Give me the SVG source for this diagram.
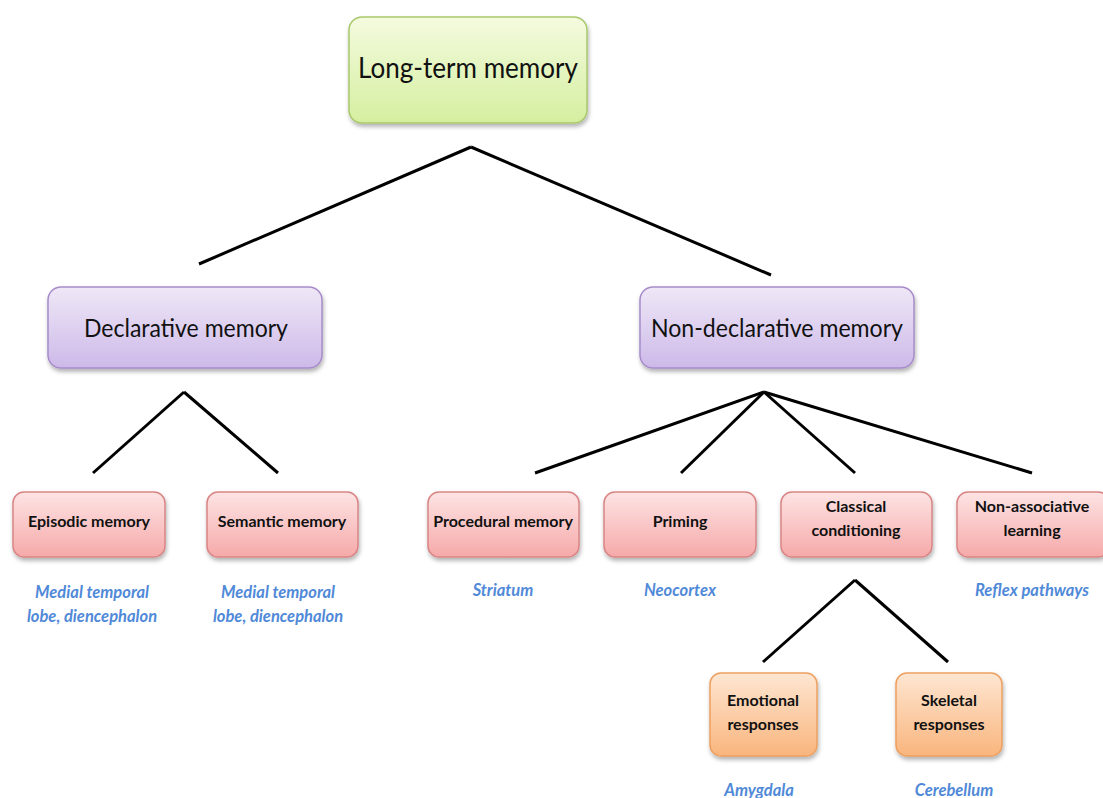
<svg xmlns="http://www.w3.org/2000/svg" width="1103" height="798" viewBox="0 0 1103 798">
<defs>
<linearGradient id="gGreen" x1="0" y1="0" x2="0" y2="1"><stop offset="0" stop-color="#f4fbdf"/><stop offset="1" stop-color="#d5efa0"/></linearGradient>
<linearGradient id="gPurple" x1="0" y1="0" x2="0" y2="1"><stop offset="0" stop-color="#efe8f7"/><stop offset="1" stop-color="#cdb9e9"/></linearGradient>
<linearGradient id="gPink" x1="0" y1="0" x2="0" y2="1"><stop offset="0" stop-color="#fde4e4"/><stop offset="1" stop-color="#f6a9a9"/></linearGradient>
<linearGradient id="gOrange" x1="0" y1="0" x2="0" y2="1"><stop offset="0" stop-color="#fee6d2"/><stop offset="1" stop-color="#f9b57d"/></linearGradient>
<filter id="sh" x="-10%" y="-10%" width="120%" height="130%"><feDropShadow dx="1" dy="3" stdDeviation="2" flood-color="#000" flood-opacity="0.3"/></filter>
</defs>
<style>
.box{filter:url(#sh);stroke-width:1.5}
.green{fill:url(#gGreen);stroke:#a9c86c}
.purple{fill:url(#gPurple);stroke:#a78cc9}
.pink{fill:url(#gPink);stroke:#d98585}
.orange{fill:url(#gOrange);stroke:#eda060}
.big{font-family:Lato,"Open Sans","Liberation Sans",sans-serif;fill:#111;text-anchor:middle}
.sm{font-family:Lato,"Open Sans","Liberation Sans",sans-serif;font-weight:bold;font-size:16px;fill:#111;text-anchor:middle}
.loc{font-family:Lato,"Open Sans","Liberation Sans",sans-serif;font-weight:bold;font-style:italic;font-size:16.5px;fill:#5089d8;text-anchor:middle}
.conn line{stroke:#000;stroke-width:3}
</style>
<rect width="1103" height="798" fill="#fff"/>
<g id="connectors" class="conn">
<line x1="471" y1="147" x2="199" y2="264"/>
<line x1="471" y1="147" x2="771" y2="275"/>
<line x1="184" y1="392" x2="93" y2="473"/>
<line x1="184" y1="392" x2="278" y2="473"/>
<line x1="764" y1="392" x2="535" y2="473"/>
<line x1="764" y1="392" x2="681" y2="473"/>
<line x1="764" y1="392" x2="855" y2="473"/>
<line x1="764" y1="392" x2="1032" y2="473"/>
<line x1="855" y1="580" x2="763" y2="662"/>
<line x1="855" y1="580" x2="948" y2="662"/>
</g>
<g id="ltm"><rect class="box green" x="349" y="17" width="238" height="106" rx="13"/><text class="big" x="468" y="78" font-size="29" textLength="220" lengthAdjust="spacingAndGlyphs">Long-term memory</text></g>
<g id="declarative"><rect class="box purple" x="48" y="287" width="274" height="81" rx="13"/><text class="big" x="186" y="337" font-size="25" textLength="204" lengthAdjust="spacingAndGlyphs">Declarative memory</text></g>
<g id="nondeclarative"><rect class="box purple" x="640" y="287" width="274" height="81" rx="13"/><text class="big" x="777" y="337" font-size="25" textLength="252" lengthAdjust="spacingAndGlyphs">Non-declarative memory</text></g>
<g id="episodic"><rect class="box pink" x="13" y="492" width="152" height="65" rx="11"/><text class="sm" x="89" y="527">Episodic memory</text><text class="loc" x="92" y="598">Medial temporal</text><text class="loc" x="92" y="622">lobe, diencephalon</text></g>
<g id="semantic"><rect class="box pink" x="207" y="492" width="151" height="65" rx="11"/><text class="sm" x="282" y="527">Semantic memory</text><text class="loc" x="278" y="598">Medial temporal</text><text class="loc" x="278" y="622">lobe, diencephalon</text></g>
<g id="procedural"><rect class="box pink" x="428" y="492" width="151" height="65" rx="11"/><text class="sm" x="503" y="527">Procedural memory</text><text class="loc" x="503" y="596">Striatum</text></g>
<g id="priming"><rect class="box pink" x="604" y="492" width="152" height="65" rx="11"/><text class="sm" x="680" y="527">Priming</text><text class="loc" x="680" y="596">Neocortex</text></g>
<g id="classical"><rect class="box pink" x="781" y="492" width="151" height="65" rx="11"/><text class="sm" x="856" y="512">Classical</text><text class="sm" x="856" y="536">conditioning</text></g>
<g id="nonassociative"><rect class="box pink" x="957" y="492" width="152" height="65" rx="11"/><text class="sm" x="1032" y="512">Non-associative</text><text class="sm" x="1032" y="536">learning</text><text class="loc" x="1032" y="596">Reflex pathways</text></g>
<g id="emotional"><rect class="box orange" x="710" y="673" width="107" height="83" rx="11"/><text class="sm" x="763" y="706">Emotional</text><text class="sm" x="763" y="730">responses</text><text class="loc" x="759" y="796">Amygdala</text></g>
<g id="skeletal"><rect class="box orange" x="896" y="673" width="106" height="83" rx="11"/><text class="sm" x="949" y="706">Skeletal</text><text class="sm" x="949" y="730">responses</text><text class="loc" x="954" y="796">Cerebellum</text></g>
</svg>
